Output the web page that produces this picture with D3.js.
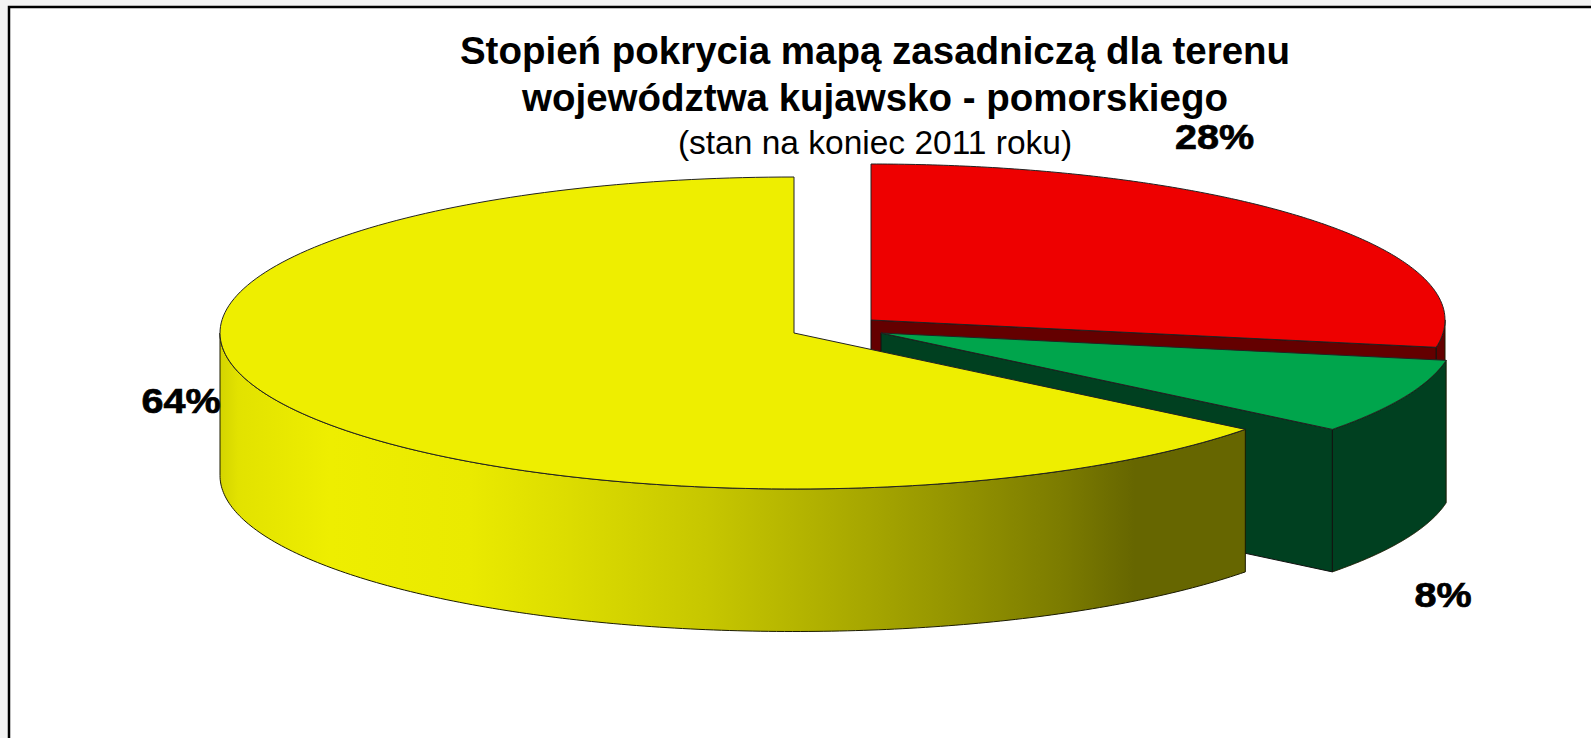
<!DOCTYPE html>
<html><head><meta charset="utf-8">
<script src="https://cdn.jsdelivr.net/npm/d3@7/dist/d3.min.js"></script>
<style>html,body{margin:0;padding:0;background:#fff;overflow:hidden}svg{display:block}</style>
</head><body>
<script>
// Data
const categories = ["czerwony", "zielony", "żółty"];
const values = [27.8, 7.8, 64.4];
const titleLines = ["Stopień pokrycia mapą zasadniczą dla terenu", "województwa kujawsko - pomorskiego"];
const subtitle = "(stan na koniec 2011 roku)";

// Styling / layout
const W = 1591, H = 738;
const rx = 574, ry = 156, depth = 142.5;
const centers = [[871, 320], [881, 333], [794, 333]];
const redVisibleWall = 40; // the rest of the red wall is hidden behind the green slice
const topColors = ["#ee0000", "#00a54c", "#eeee00"];
const sideColors = ["#640000", "#004020", "url(#yellowSide)"];
const labelPos = [[1214.5, 149], [1443, 607], [181, 413]];

const svg = d3.select("body").append("svg").attr("width", W).attr("height", H);

// grey page background outside the frame
svg.append("rect").attr("width", W).attr("height", H).attr("fill", "#f3f3f3");
svg.append("rect").attr("x", 9).attr("y", 7).attr("width", W).attr("height", H)
  .attr("fill", "#fff").attr("stroke", "#000").attr("stroke-width", 2.5);

const defs = svg.append("defs");
const grad = defs.append("linearGradient").attr("id", "yellowSide")
  .attr("gradientUnits", "userSpaceOnUse").attr("x1", 220).attr("x2", 1247).attr("y1", 0).attr("y2", 0);
[[220, "#d4d400"], [238, "#e2e200"], [330, "#eeee00"], [470, "#eaea00"], [570, "#dcdc00"],
 [710, "#c6c600"], [830, "#aeae00"], [950, "#959500"], [1060, "#7c7c00"], [1135, "#666600"], [1247, "#666600"]]
  .forEach(([x, c]) => grad.append("stop").attr("offset", (x - 220) / 1027).attr("stop-color", c));

const slices = d3.pie().sort(null).value(d => d)(values);

// Unit-circle → pixel scales for each exploded slice
function scales(i) {
  const [cx, cy] = centers[i];
  return {
    x: d3.scaleLinear().domain([-1, 1]).range([cx - rx, cx + rx]),
    y: d3.scaleLinear().domain([-1, 1]).range([cy - ry, cy + ry])
  };
}
const stepAngles = (a0, a1) => d3.range(0, 181).map(k => a0 + (a1 - a0) * k / 180);
const lineGen = d3.line();

function rimPoints(i, a0, a1, dz) {
  const s = scales(i);
  return stepAngles(a0, a1).map(a => [s.x(Math.sin(a)), s.y(-Math.cos(a)) + dz]);
}
function drawOuterSide(g, i, a0, a1, fill, h) {
  const top = rimPoints(i, a0, a1, 0);
  const bot = rimPoints(i, a0, a1, h).reverse();
  g.append("path").attr("d", lineGen(top.concat(bot)) + "Z")
    .attr("fill", fill).attr("stroke", "#1a1a00").attr("stroke-width", 1).attr("stroke-linejoin", "round");
}
function drawCutFace(g, i, a, fill, h) {
  const s = scales(i);
  const c = [s.x(0), s.y(0)], e = [s.x(Math.sin(a)), s.y(-Math.cos(a))];
  g.append("path").attr("d", lineGen([c, e, [e[0], e[1] + h], [c[0], c[1] + h]]) + "Z")
    .attr("fill", fill).attr("stroke", "#111").attr("stroke-width", 1);
}
function drawTop(g, i, a0, a1, fill) {
  const s = scales(i);
  const pts = [[s.x(0), s.y(0)]].concat(rimPoints(i, a0, a1, 0));
  g.append("path").attr("d", lineGen(pts) + "Z")
    .attr("fill", fill).attr("stroke", "#222").attr("stroke-width", 1).attr("stroke-linejoin", "round");
}

const pie = svg.append("g");
// painter's order: red, green, yellow
slices.forEach((d, i) => {
  const g = pie.append("g").attr("class", "slice " + categories[i]);
  if (i === 2) {
    // front wall runs from the right vertex round to the left silhouette
    drawOuterSide(g, i, d.startAngle, Math.PI * 1.5, sideColors[i], depth);
  } else if (i === 0) {
    // only the sliver of the red wall above the green slice shows
    drawOuterSide(g, i, Math.PI / 2, d.endAngle, sideColors[i], redVisibleWall);
    drawCutFace(g, i, d.endAngle, sideColors[i], redVisibleWall);
  } else {
    drawOuterSide(g, i, d.startAngle, d.endAngle, sideColors[i], depth);
    drawCutFace(g, i, d.endAngle, sideColors[i], depth);
  }
  drawTop(g, i, d.startAngle, d.endAngle, topColors[i]);
});

// Title
const font = "'Liberation Sans', Arial, sans-serif";
svg.append("g").selectAll("text").data(titleLines).join("text")
  .attr("x", 875).attr("y", (d, i) => [64, 111][i])
  .attr("text-anchor", "middle").attr("font-family", font).attr("font-weight", 700)
  .attr("font-size", 38.5).attr("fill", "#000").text(d => d);
svg.append("text").attr("x", 875).attr("y", 154).attr("text-anchor", "middle")
  .attr("font-family", font).attr("font-size", 33.5).attr("fill", "#000").text(subtitle);

// Percent labels
const fmt = d3.format(".0f");
svg.append("g").selectAll("text").data(slices).join("text")
  .attr("transform", (d, i) => `translate(${labelPos[i][0]},${labelPos[i][1]}) scale(1.13,1)`)
  .attr("text-anchor", "middle").attr("font-family", font).attr("font-weight", 700)
  .attr("font-size", 35).attr("stroke", "#000").attr("stroke-width", 0.7).attr("fill", "#000")
  .text(d => fmt(d.value) + "%");
</script>
</body></html>
